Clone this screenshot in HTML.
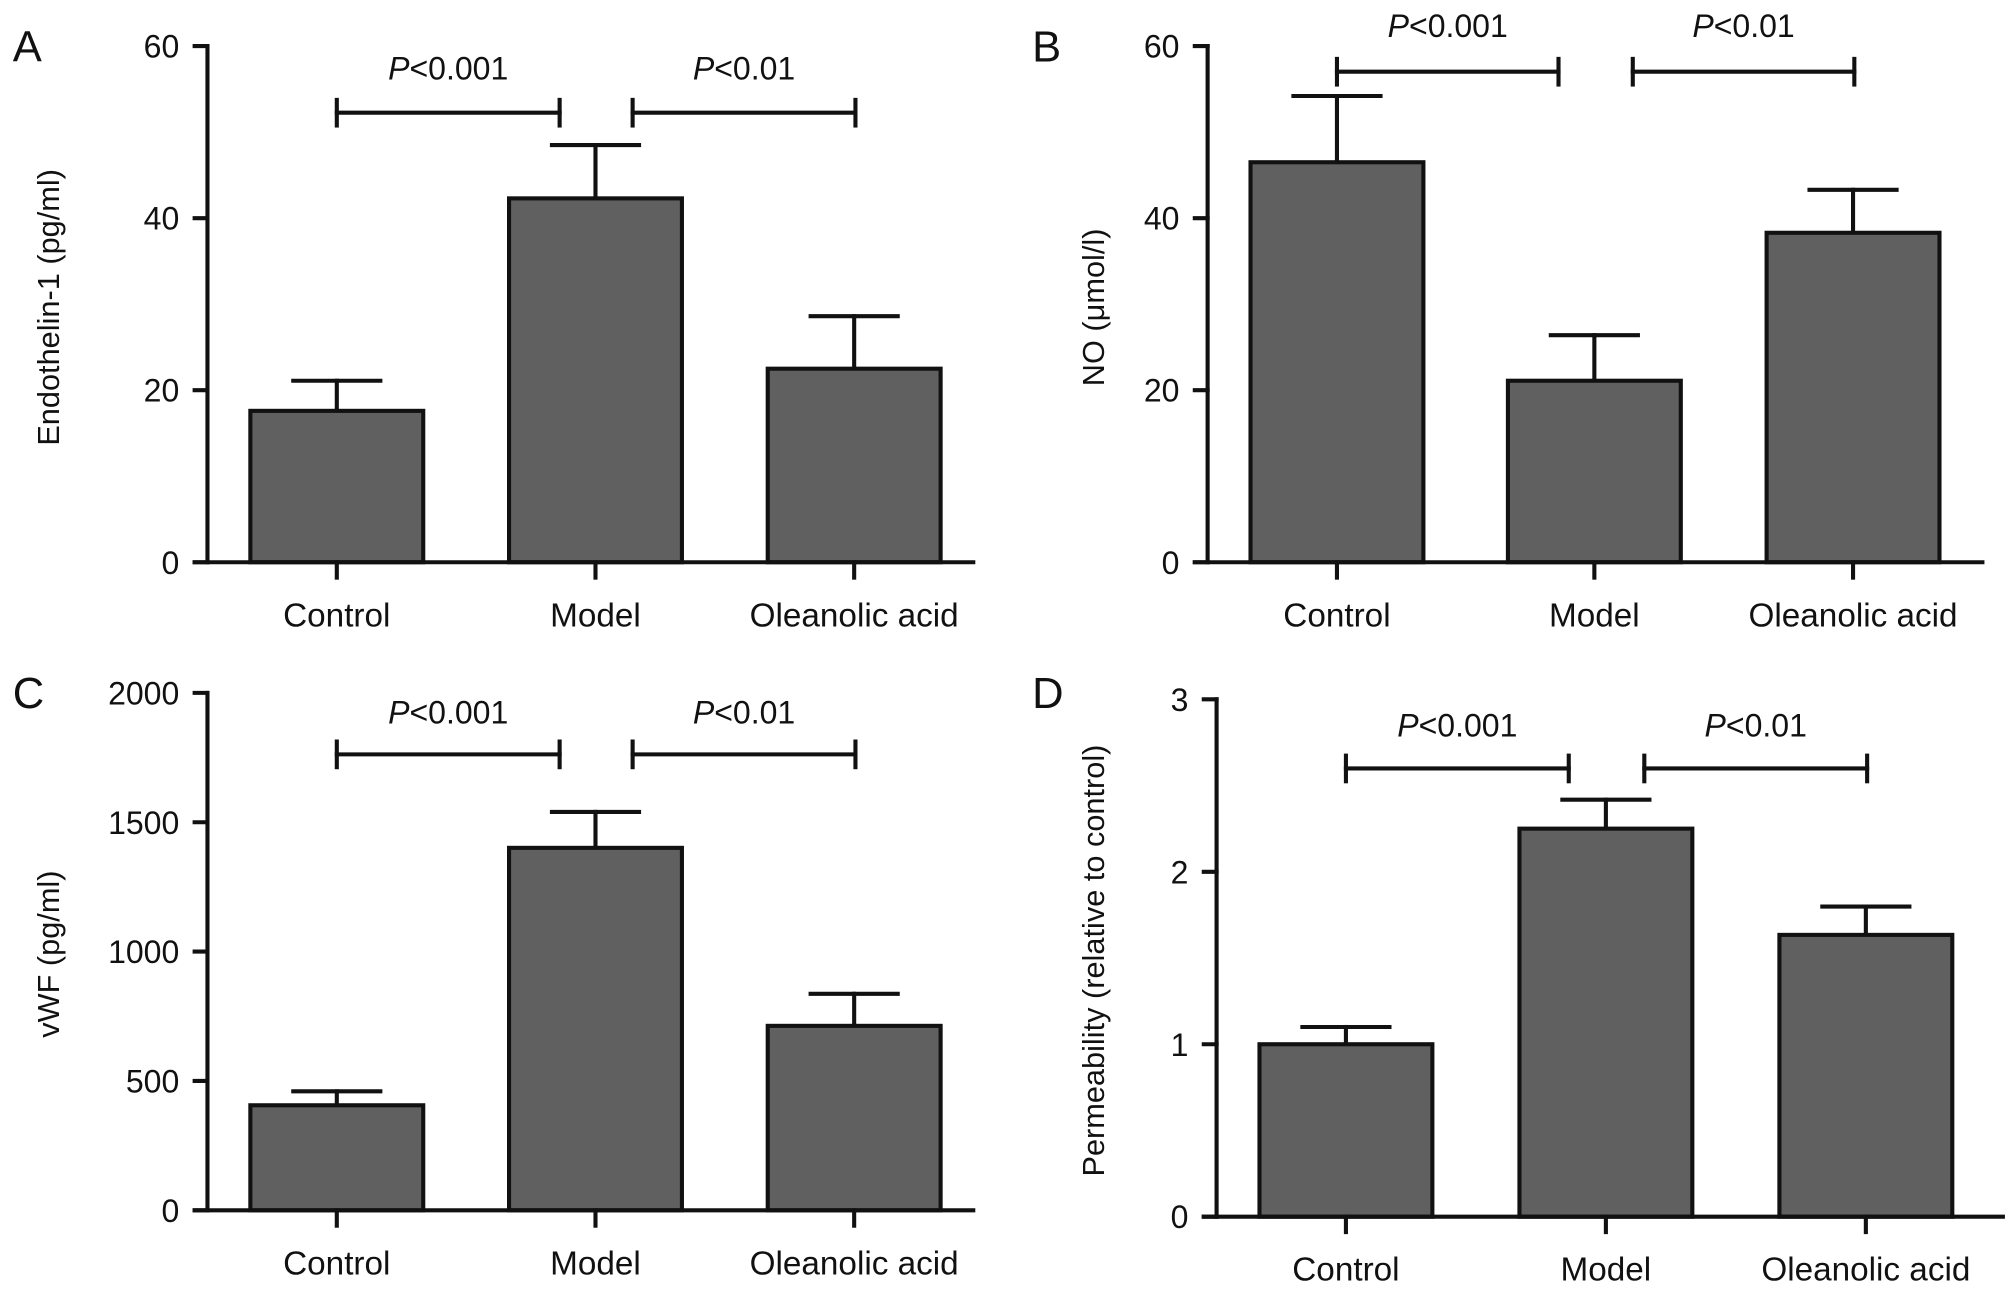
<!DOCTYPE html>
<html><head><meta charset="utf-8"><style>
html,body{margin:0;padding:0;background:#fff;}
svg{display:block;}
text{font-family:"Liberation Sans",Arial,sans-serif;fill:#111;}
</style></head><body>
<svg id="fig" width="2008" height="1291" viewBox="0 0 1568 1008" preserveAspectRatio="none" xmlns="http://www.w3.org/2000/svg"></svg>
<script>
const categories = ["Control", "Model", "Oleanolic acid"];
const valuesA = [17.6, 42.3, 22.5];
const errorsA = [21.1, 48.5, 28.6];
const ticksA = [0, 20, 40, 60];
const valuesB = [46.5, 21.1, 38.3];
const errorsB = [54.2, 26.4, 43.3];
const ticksB = [0, 20, 40, 60];
const valuesC = [406, 1401, 713];
const errorsC = [460, 1540, 837];
const ticksC = [0, 500, 1000, 1500, 2000];
const valuesD = [1.0, 2.25, 1.634];
const errorsD = [1.10, 2.418, 1.798];
const ticksD = [0, 1, 2, 3];
const pLabels = ["<0.001", "<0.01"];

const NS = "http://www.w3.org/2000/svg";
const svg = document.getElementById('fig');
function mk(tag, attrs, parent, txt) {
  const e = document.createElementNS(NS, tag);
  for (const k in attrs) e.setAttribute(k, attrs[k]);
  if (txt !== undefined) e.textContent = txt;
  (parent || svg).appendChild(e);
  return e;
}
function line(g, x1, y1, x2, y2, name) {
  const l = mk('line', {x1, y1, x2, y2, stroke: '#111', 'stroke-width': 3.2, 'stroke-linecap': 'square'}, g);
  
  
  return l;
}

function panel(cfg) {
  const g = mk('g', {});
  
  
  const ymax = cfg.ticks[cfg.ticks.length - 1];
  const yS = v => cfg.y0 - (v / ymax) * (cfg.y0 - cfg.yTop);
  const barW = cfg.barW;
  cfg.values.forEach((v, i) => {
    const cx = cfg.centers[i];
    const eTop = yS(cfg.errors[i]);
    line(g, cx, eTop, cx, yS(v), 'error-bar-' + i);
    line(g, cx - 34, eTop, cx + 34, eTop, 'error-cap-' + i);
    const r = mk('rect', {x: cx - barW / 2, y: yS(v), width: barW, height: cfg.y0 - yS(v), fill: '#606060', stroke: '#111', 'stroke-width': 3.2}, g);
    
    
  });
  line(g, cfg.ax, cfg.yTop, cfg.ax, cfg.y0, 'y-axis');
  line(g, cfg.ax - 10, cfg.y0, cfg.xEnd, cfg.y0, 'x-axis');
  cfg.ticks.forEach(t => {
    const y = yS(t);
    line(g, cfg.ax - 10, y, cfg.ax, y, 'y-tick');
    const tl = mk('text', {x: cfg.ax - 22, y: y + 9, 'font-size': 25, 'text-anchor': 'end'}, g, String(t));
    
    
  });
  categories.forEach((c, i) => {
    const cx = cfg.centers[i];
    line(g, cx, cfg.y0, cx, cfg.y0 + 12, 'x-tick');
    const tl = mk('text', {x: cx, y: cfg.y0 + 50, 'font-size': 26, 'text-anchor': 'middle'}, g, c);
    
    
  });
  const yt = mk('text', {x: 0, y: 0, 'font-size': 24, 'text-anchor': 'middle', transform: `translate(${cfg.titleX},${cfg.titleY}) rotate(-90)`}, g, cfg.title);
  
  
  const lt = mk('text', {x: cfg.letterX, y: cfg.letterY, 'font-size': 34}, g, cfg.letter);
  
  
  cfg.brackets.forEach((b, i) => {
    line(g, b[0], cfg.brY, b[1], cfg.brY, 'significance-bracket');
    line(g, b[0], cfg.brY - 10, b[0], cfg.brY + 10, 'bracket-end');
    line(g, b[1], cfg.brY - 10, b[1], cfg.brY + 10, 'bracket-end');
    const t = mk('text', {x: (b[0] + b[1]) / 2, y: cfg.pY, 'font-size': 25, 'text-anchor': 'middle'}, g);
    
    
    mk('tspan', {'font-style': 'italic'}, t, 'P');
    mk('tspan', {}, t, pLabels[i]);
  });
}

panel({letter: 'A', letterX: 10, letterY: 48, ax: 162, y0: 439, yTop: 36, xEnd: 760, barW: 135,
  centers: [263, 465, 667], values: valuesA, errors: errorsA, ticks: ticksA,
  title: 'Endothelin-1 (pg/ml)', titleX: 46, titleY: 240,
  brackets: [[263, 437], [494, 668]], brY: 88, pY: 62});
panel({letter: 'B', letterX: 806, letterY: 48, ax: 943, y0: 439, yTop: 36, xEnd: 1548, barW: 135,
  centers: [1044, 1245, 1447], values: valuesB, errors: errorsB, ticks: ticksB,
  title: 'NO (μmol/l)', titleX: 862, titleY: 240,
  brackets: [[1044, 1217], [1275, 1448]], brY: 56, pY: 29});
panel({letter: 'C', letterX: 10, letterY: 553, ax: 162, y0: 945, yTop: 541, xEnd: 760, barW: 135,
  centers: [263, 465, 667], values: valuesC, errors: errorsC, ticks: ticksC,
  title: 'vWF (pg/ml)', titleX: 46, titleY: 745,
  brackets: [[263, 437], [494, 668]], brY: 589, pY: 565});
panel({letter: 'D', letterX: 806, letterY: 553, ax: 950, y0: 950, yTop: 546, xEnd: 1564, barW: 135,
  centers: [1051, 1254, 1457], values: valuesD, errors: errorsD, ticks: ticksD,
  title: 'Permeability (relative to control)', titleX: 862, titleY: 750,
  brackets: [[1051, 1225], [1284, 1458]], brY: 600, pY: 575});
</script>
</body></html>
